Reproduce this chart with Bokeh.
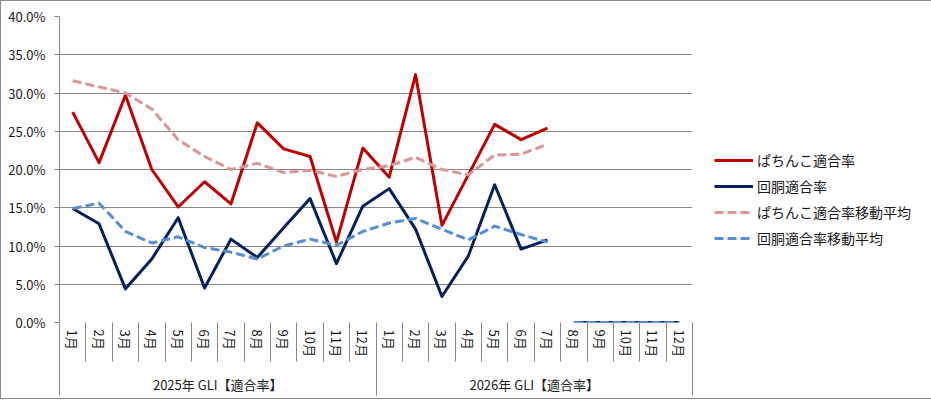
from bokeh.plotting import figure
from bokeh.models import (Range1d, FixedTicker, LinearAxis, NumeralTickFormatter,
                          Legend, LegendItem)
from bokeh.embed import file_html
from bokeh.resources import INLINE

# ---------------- data ----------------
years = ["2025年 GLI【適合率】", "2026年 GLI【適合率】"]
months = ["1月", "2月", "3月", "4月", "5月", "6月",
          "7月", "8月", "9月", "10月", "11月", "12月"]

# ぱちんこ適合率 (2025/1 - 2026/7)
pachinko = [0.275, 0.209, 0.297, 0.200, 0.151, 0.184, 0.155, 0.261, 0.227, 0.217,
            0.105, 0.228, 0.190, 0.324, 0.127, 0.193, 0.259, 0.239, 0.254]
# 回胴適合率 (2025/1 - 2026/7)
kaido = [0.149, 0.129, 0.044, 0.083, 0.137, 0.045, 0.109, 0.085, 0.124, 0.162,
         0.077, 0.152, 0.175, 0.122, 0.034, 0.087, 0.180, 0.096, 0.108]
# ぱちんこ適合率移動平均
pachinko_ma = [0.316, 0.308, 0.300, 0.279, 0.239, 0.217, 0.200, 0.208, 0.196, 0.199,
               0.191, 0.200, 0.205, 0.216, 0.200, 0.193, 0.219, 0.220, 0.233]
# 回胴適合率移動平均
kaido_ma = [0.149, 0.156, 0.119, 0.104, 0.112, 0.098, 0.092, 0.083, 0.100, 0.109,
            0.101, 0.119, 0.130, 0.136, 0.122, 0.108, 0.126, 0.115, 0.105]
# 2026/8 - 2026/12 (plotted as 0)
kaido_tail = [0.0, 0.0, 0.0, 0.0, 0.0]
kaido_ma_tail = [0.0, 0.0, 0.0, 0.0, 0.0]

y_ticks = [0.0, 0.05, 0.10, 0.15, 0.20, 0.25, 0.30, 0.35, 0.40]

# ---------------- derived positions ----------------
all_months = months * len(years)
n = len(all_months)
x_all = list(range(n))
x_main = x_all[:len(pachinko)]
x_tail = x_all[n - len(kaido_tail):]

FONT = "Noto Sans CJK JP"
GRID = "#868686"
TXT = "#1a1a1a"

p = figure(frame_width=633, frame_height=306, output_backend="svg", toolbar_location=None,
           x_range=Range1d(-0.5, n - 0.5), y_range=Range1d(0, 0.4),
           x_axis_type=None, min_border_left=58, min_border_right=236,
           min_border_top=15, min_border_bottom=76,
           styles={"border": "1px solid #8c8c8c"})
p.outline_line_color = None
p.background_fill_color = "white"
p.border_fill_color = "white"

# y axis
yt = FixedTicker(ticks=y_ticks, minor_ticks=[])
p.yaxis.ticker = yt
p.yaxis.formatter = NumeralTickFormatter(format="0.0%")
p.yaxis.axis_line_color = GRID
p.yaxis.major_tick_line_color = GRID
p.yaxis.major_tick_out = 5
p.yaxis.major_tick_in = 0
p.yaxis.minor_tick_line_color = None
p.yaxis.major_label_standoff = 9
p.yaxis.major_label_text_font = FONT
p.yaxis.major_label_text_font_size = "13px"
p.yaxis.major_label_text_color = TXT
p.ygrid.ticker = yt
p.ygrid.grid_line_color = GRID
p.ygrid.grid_line_width = 1

# month axis (labels at centres, separators as minor ticks at boundaries)
month_axis = LinearAxis(
    ticker=FixedTicker(ticks=x_all, minor_ticks=[i - 0.5 for i in range(n + 1)]),
    major_label_overrides={i: m for i, m in enumerate(all_months)},
    major_label_orientation="vertical",
    axis_line_color=None, major_tick_line_color=None,
    minor_tick_line_color=GRID, minor_tick_in=0, minor_tick_out=39,
    major_label_standoff=-32,
    major_label_text_font=FONT, major_label_text_font_size="13px",
    major_label_text_color=TXT)
p.add_layout(month_axis, "below")

# year group axis
per = len(months)
group_centres = [k * per + (per - 1) / 2 for k in range(len(years))]
group_bounds = [k * per - 0.5 for k in range(len(years) + 1)]
group_axis = LinearAxis(
    ticker=FixedTicker(ticks=group_centres, minor_ticks=group_bounds),
    major_label_overrides={c: y for c, y in zip(group_centres, years)},
    axis_line_color=None, major_tick_line_color=None,
    minor_tick_line_color=GRID, minor_tick_in=0, minor_tick_out=36,
    major_label_standoff=-21,
    major_label_text_font=FONT, major_label_text_font_size="13px",
    major_label_text_color=TXT)
p.add_layout(group_axis, "below")

# ---------------- series ----------------
RED = "#C00000"
NAVY = "#002060"
PINK = "#D99694"
LBLUE = "#558ED5"
DASH = "9 4"

r1 = p.line(x_main, pachinko, line_color=RED, line_width=3, line_join="round")
r2 = p.line(x_main, kaido, line_color=NAVY, line_width=3, line_join="round")
r2b = p.line(x_tail, kaido_tail, line_color=NAVY, line_width=3)
r3 = p.line(x_main, pachinko_ma, line_color=PINK, line_width=3, line_dash=DASH,
            line_join="round")
r4 = p.line(x_main, kaido_ma, line_color=LBLUE, line_width=3, line_dash=DASH,
            line_join="round")
r4b = p.line(x_tail, kaido_ma_tail, line_color=LBLUE, line_width=3, line_dash=DASH)

legend = Legend(items=[
    LegendItem(label="ぱちんこ適合率", renderers=[r1]),
    LegendItem(label="回胴適合率", renderers=[r2]),
    LegendItem(label="ぱちんこ適合率移動平均", renderers=[r3]),
    LegendItem(label="回胴適合率移動平均", renderers=[r4]),
], location=(22, 74))
legend.border_line_color = None
legend.background_fill_alpha = 0
legend.padding = 0
legend.margin = 0
legend.spacing = 6
legend.glyph_width = 39
legend.glyph_height = 20
legend.label_height = 20
legend.label_standoff = 4
legend.label_text_font = FONT
legend.label_text_font_size = "14px"
legend.label_text_color = TXT
p.add_layout(legend, "right")

open("out.html", "w").write(file_html(p, INLINE))
